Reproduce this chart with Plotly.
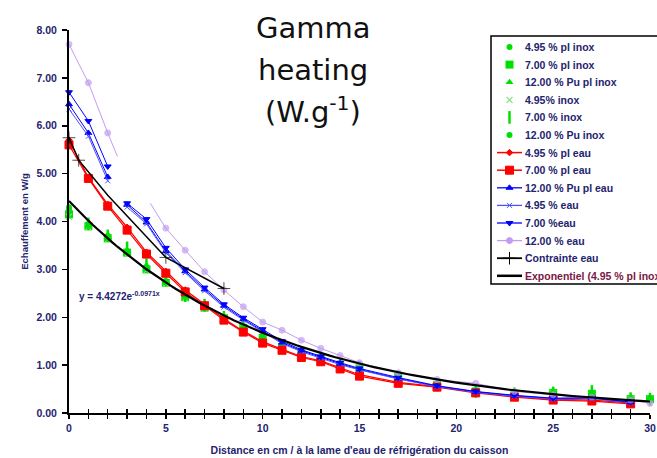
import numpy as np
import plotly.graph_objects as go

# ---------------- data ----------------
X_INOX = [0, 1, 2, 3, 4, 5, 6, 7, 8, 9, 10, 11, 12, 13, 14, 15, 17, 19, 21, 23, 25, 27, 29, 30]
g495_pl_inox = [4.30, 3.95, 3.70, 3.38, 3.05, 2.75, 2.45, 2.22, 2.00, 1.80, 1.60, 1.40, 1.25, 1.15, 1.02, 0.94, 0.76, 0.58, 0.46, 0.40, 0.42, 0.40, 0.30, 0.29]
g700_pl_inox = [4.15, 3.90, 3.65, 3.35, 3.00, 2.72, 2.42, 2.20, 1.98, 1.78, 1.57, 1.37, 1.24, 1.14, 1.00, 0.93, 0.75, 0.58, 0.45, 0.40, 0.42, 0.40, 0.29, 0.29]
g1200_pu_pl_inox = [4.22, 3.92, 3.68, 3.40, 3.08, 2.76, 2.46, 2.24, 2.02, 1.82, 1.60, 1.39, 1.26, 1.16, 1.01, 0.95, 0.76, 0.59, 0.46, 0.41, 0.43, 0.45, 0.30, 0.30]
g495_inox = [4.10, 3.88, 3.62, 3.32, 2.98, 2.70, 2.40, 2.18, 1.97, 1.77, 1.56, 1.36, 1.23, 1.13, 0.99, 0.92, 0.74, 0.57, 0.44, 0.39, 0.41, 0.38, 0.29, 0.28]
g700_inox = [4.20, 3.95, 3.70, 3.45, 3.10, 2.80, 2.45, 2.25, 2.00, 1.80, 1.60, 1.40, 1.25, 1.15, 1.00, 0.95, 0.75, 0.58, 0.45, 0.40, 0.42, 0.45, 0.30, 0.29]
g1200_pu_inox = [4.25, 3.93, 3.67, 3.37, 3.03, 2.74, 2.44, 2.21, 1.99, 1.79, 1.58, 1.38, 1.25, 1.15, 1.01, 0.94, 0.75, 0.58, 0.45, 0.40, 0.42, 0.40, 0.30, 0.30]

X_EAU = [0, 1, 2, 3, 4, 5, 6, 7, 8, 9, 10, 11, 12, 13, 14, 15, 17, 19, 21, 23, 25, 27, 29]
r495_pl_eau = [5.70, 4.92, 4.36, 3.88, 3.36, 2.96, 2.57, 2.27, 1.97, 1.71, 1.49, 1.33, 1.18, 1.09, 0.95, 0.80, 0.64, 0.55, 0.44, 0.35, 0.29, 0.27, 0.21]
r700_pl_eau = [5.60, 4.90, 4.32, 3.82, 3.32, 2.92, 2.53, 2.24, 1.94, 1.69, 1.46, 1.31, 1.16, 1.07, 0.92, 0.77, 0.62, 0.54, 0.42, 0.33, 0.27, 0.25, 0.19]

X_EAU_SEG = [0, 1, 2, None, 3, 4, 5, 6, 7, 8, 9, 10, 11, 12, 13, 14, 15, 17, 19, 21, 23, 25, 27, 29]
b1200_pu_pl_eau = [6.45, 5.85, 4.93, None, 4.35, 3.98, 3.38, 2.96, 2.58, 2.24, 1.96, 1.72, 1.47, 1.30, 1.16, 1.03, 0.91, 0.72, 0.56, 0.44, 0.36, 0.30, 0.31, 0.22]
b495_eau = [6.35, 5.78, 4.85, None, 4.30, 3.95, 3.35, 2.93, 2.55, 2.21, 1.94, 1.70, 1.45, 1.28, 1.14, 1.01, 0.90, 0.71, 0.55, 0.43, 0.35, 0.29, 0.30, 0.21]
b700_eau = [6.70, 6.10, 5.15, None, 4.38, 4.05, 3.45, 3.00, 2.62, 2.27, 1.99, 1.75, 1.50, 1.32, 1.18, 1.05, 0.93, 0.74, 0.57, 0.45, 0.37, 0.31, 0.32, 0.23]

X_P1200 = [0, 1, 2, 2.5, None, 4.2, 5, 6, 7, 8, 9, 10, 11, 12, 13, 14, 15, 17, 19, 21, 23, 25, 27, 29, 30]
p1200_eau = [7.70, 6.90, 5.85, 5.36, None, 4.38, 3.86, 3.40, 2.95, 2.57, 2.22, 1.90, 1.73, 1.52, 1.35, 1.20, 1.05, 0.84, 0.70, 0.62, 0.45, 0.38, 0.33, 0.27, 0.20]
p1200_marked = [1, 1, 1, 0, 0, 0, 1, 1, 1, 1, 1, 1, 1, 1, 1, 1, 1, 1, 1, 1, 1, 1, 1, 1, 1]

X_CONTR = [0, 0.5, 2, 5, 8]
contrainte_eau = [5.75, 5.28, 4.55, 3.25, 2.60]
contrainte_marked = [1, 1, 0, 1, 1]

EXP_A = 4.4272
EXP_K = 0.0971
EXP_X_MAX = 30

X_TICKS = list(range(0, 31))
X_TICK_LABELS = [str(v) if v % 5 == 0 else "" for v in X_TICKS]
Y_TICKS = [0, 1, 2, 3, 4, 5, 6, 7, 8]

# ---------------- styling ----------------
GREEN = "#00e000"
LGREEN = "#7ee07e"
RED = "#ff0000"
BLUE = "#0000ff"
LBLUE = "#5050ff"
PURPLE = "#c39cf2"
NAVY = "#23236e"
FONT = "Liberation Sans"

# pixel geometry of the plot area
PX_L, PX_R, PX_T, PX_B = 69, 650, 30, 413
W, H = 657, 458

def px_x(px):
    return (px - PX_L) / (PX_R - PX_L)

def px_y(py):
    return (PX_B - py) / (PX_B - PX_T)

fig = go.Figure()

# entries: (name, mode, color, symbol, size, marker line width, line width)
legend_specs = []

def inox(name, y, symbol, size, color=GREEN, lw=0):
    fig.add_trace(go.Scatter(
        x=X_INOX, y=y, name=name, mode="markers", showlegend=False,
        marker=dict(symbol=symbol, size=size, color=color,
                    line=dict(color=color, width=lw)),
        cliponaxis=False))
    legend_specs.append((name, "markers", color, symbol, size, lw, 0))

def eau(name, x, y, color, symbol, size, msizes=None, lw=1.2):
    sz = size if msizes is None else [size * m for m in msizes]
    fig.add_trace(go.Scatter(
        x=x, y=y, name=name, mode="lines+markers", showlegend=False,
        line=dict(color=color, width=lw),
        marker=dict(symbol=symbol, size=sz, color=color,
                    line=dict(color=color, width=1)),
        cliponaxis=False))
    legend_specs.append((name, "lines+markers", color, symbol, size, 1, lw))

inox("4.95 % pl inox", g495_pl_inox, "circle", 6)
inox("7.00 % pl inox", g700_pl_inox, "square", 8)
inox("12.00 % Pu pl inox", g1200_pu_pl_inox, "triangle-up", 7)
inox("4.95% inox", g495_inox, "x-thin-open", 6, color=LGREEN, lw=1.2)
inox("7.00 % inox", g700_inox, "line-ns-open", 9, lw=2.5)
inox("12.00 % Pu inox", g1200_pu_inox, "circle", 6)

eau("4.95 % pl eau", X_EAU, r495_pl_eau, RED, "diamond", 5)
eau("7.00 % pl eau", X_EAU, r700_pl_eau, RED, "square", 8)
eau("12.00 % Pu pl eau", X_EAU_SEG, b1200_pu_pl_eau, BLUE, "triangle-up", 6, lw=1)
eau("4.95 % eau", X_EAU_SEG, b495_eau, LBLUE, "x-thin-open", 5, lw=1)
eau("7.00 %eau", X_EAU_SEG, b700_eau, BLUE, "triangle-down", 6, lw=1)
eau("12.00 % eau", X_P1200, p1200_eau, PURPLE, "circle", 6, p1200_marked, lw=1)
eau("Contrainte eau", X_CONTR, contrainte_eau, "#000000", "cross-thin-open", 9,
    contrainte_marked, lw=1.5)

x_exp = np.linspace(0, EXP_X_MAX, 121)
y_exp = EXP_A * np.exp(-EXP_K * x_exp)
fig.add_trace(go.Scatter(
    x=x_exp, y=y_exp, mode="lines", showlegend=False,
    name="Exponentiel (4.95 % pl inox)",
    line=dict(color="#000000", width=2.2)))
legend_specs.append(("Exponentiel (4.95 % pl inox)", "lines", "#000000", "circle", 0, 0, 2.2))

# ---------------- manual legend (pixel-space helper axes) ----------------
LEG_X0, LEG_Y0, LEG_Y1 = 491, 36, 284
ITEM_Y0, ITEM_DY = 47, 17.6
SAMPLE_X0, SAMPLE_X1, TEXT_X = 497, 522, 523

for i, (name, mode, color, symbol, size, mlw, lw) in enumerate(legend_specs):
    yy = ITEM_Y0 + i * ITEM_DY
    if mode != "markers":
        fig.add_trace(go.Scatter(
            x=[SAMPLE_X0, SAMPLE_X1], y=[yy, yy], mode="lines",
            line=dict(color=color, width=lw + 0.3), xaxis="x3", yaxis="y3",
            showlegend=False, hoverinfo="skip", cliponaxis=False))
    if mode != "lines":
        fig.add_trace(go.Scatter(
            x=[(SAMPLE_X0 + SAMPLE_X1) / 2], y=[yy], mode="markers",
            marker=dict(symbol=symbol, size=size, color=color,
                        line=dict(color=color, width=mlw)),
            xaxis="x3", yaxis="y3", showlegend=False, hoverinfo="skip",
            cliponaxis=False))
    tcolor = "#7a1846" if name.startswith("Exponentiel") else NAVY
    fig.add_annotation(
        x=px_x(TEXT_X), y=px_y(yy), xref="paper", yref="paper",
        xanchor="left", yanchor="middle", text=name, showarrow=False,
        font=dict(family=FONT, size=10.5, color=tcolor, weight="bold"))

fig.add_shape(type="rect", xref="paper", yref="paper",
              x0=px_x(LEG_X0), x1=px_x(W + 20), y0=px_y(LEG_Y1), y1=px_y(LEG_Y0),
              line=dict(color="#000000", width=1.5), fillcolor="rgba(0,0,0,0)",
              layer="above")

# ---------------- layout ----------------
tickfont = dict(family=FONT, size=10.5, color=NAVY, weight="bold")
fig.update_layout(
    width=W, height=H,
    margin=dict(l=PX_L, r=W - PX_R, t=PX_T, b=H - PX_B, autoexpand=False),
    paper_bgcolor="white", plot_bgcolor="white",
    font=dict(family=FONT, color=NAVY),
    showlegend=False,
    xaxis=dict(
        range=[0, 30], tickvals=X_TICKS, ticktext=X_TICK_LABELS,
        ticks="outside", ticklen=4, tickwidth=1.5, tickcolor="#000000",
        showline=True, linecolor="#000000", linewidth=2,
        showgrid=False, zeroline=False, tickfont=tickfont, automargin=False,
        ticklabeloverflow="allow",
        title=dict(text="Distance en cm / à la lame d'eau de réfrigération du caisson",
                   font=dict(family=FONT, size=10.5, color=NAVY, weight="bold"),
                   standoff=14),
    ),
    xaxis2=dict(
        range=[0, 30], overlaying="x", anchor="y", side="bottom",
        tickvals=X_TICKS, ticktext=[""] * len(X_TICKS),
        ticks="inside", ticklen=4, tickwidth=1.5, tickcolor="#000000",
        showline=False, showgrid=False, zeroline=False, automargin=False,
    ),
    yaxis=dict(
        range=[0, 8], tickvals=Y_TICKS, tickformat=".2f",
        ticks="outside", ticklen=5, tickwidth=1.5, tickcolor="#000000",
        showline=True, linecolor="#000000", linewidth=2,
        showgrid=False, zeroline=False, tickfont=tickfont, automargin=False,
        ticklabelstandoff=3, ticklabeloverflow="allow",
        title=dict(text="Echauffement en W/g",
                   font=dict(family=FONT, size=9.5, color=NAVY, weight="bold"),
                   standoff=6),
    ),
    xaxis3=dict(range=[PX_L, PX_R], domain=[0, 1], anchor="y3", overlaying="x",
                visible=False, fixedrange=True),
    yaxis3=dict(range=[PX_B, PX_T], domain=[0, 1], anchor="x3", overlaying="y",
                visible=False, fixedrange=True),
)

# hidden trace to make xaxis2 render
fig.add_trace(go.Scatter(x=[0], y=[0], xaxis="x2", mode="markers",
                         marker=dict(size=0, opacity=0), showlegend=False,
                         hoverinfo="skip"))

fig.add_annotation(
    x=0.4, y=2.44, xref="x", yref="y", xanchor="left", yanchor="middle",
    text="y = 4.4272e<sup>-0.0971x</sup>", showarrow=False,
    font=dict(family=FONT, size=10, color=NAVY, weight="bold"))

title_lines = ["Gamma", "heating", "(W.g<sup>-1</sup>)"]
title_y = [28, 70, 110]
for txt, yy in zip(title_lines, title_y):
    fig.add_annotation(
        x=px_x(313), y=px_y(yy), xref="paper", yref="paper",
        xanchor="center", yanchor="middle", text=txt, showarrow=False,
        font=dict(family="DejaVu Sans", size=29, color="#111111"))

fig.write_html("out.html",
               config={"displayModeBar": False, "staticPlot": True},
               post_script="document.body.style.margin='0';"
                           "document.body.style.overflow='hidden';")
